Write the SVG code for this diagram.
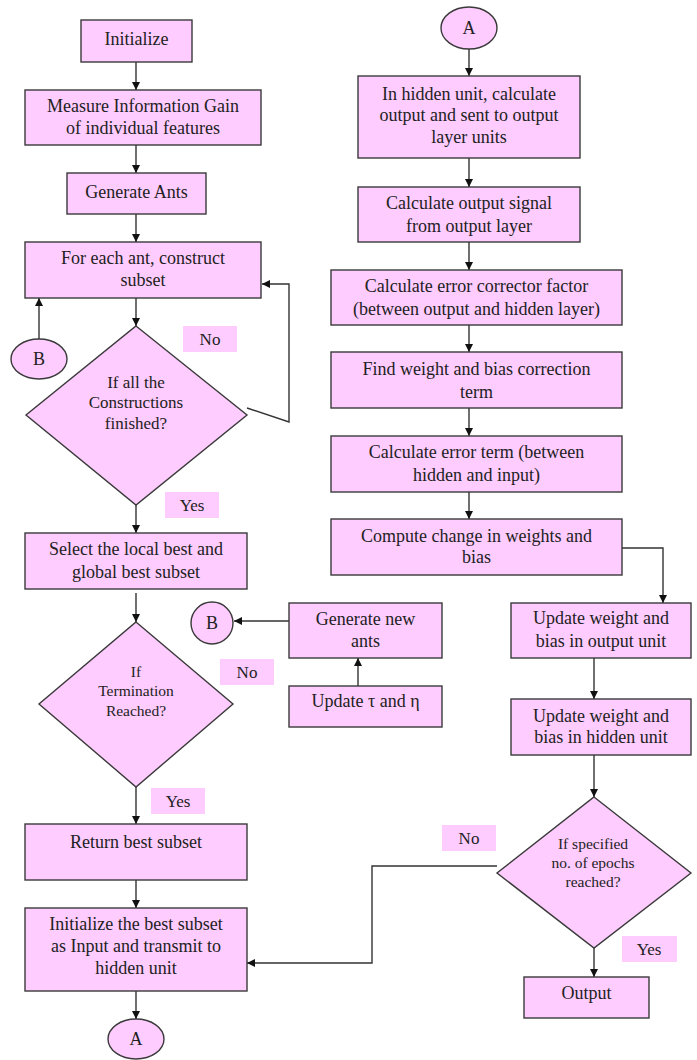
<svg xmlns="http://www.w3.org/2000/svg" width="697" height="1060" viewBox="0 0 697 1060">
<defs>
<marker id="ah" viewBox="0 0 10 10" refX="10" refY="5" markerWidth="8" markerHeight="8" markerUnits="userSpaceOnUse" orient="auto">
<path d="M0,0 L10,5 L0,10 Z" fill="#111"/>
</marker>
<style>
.n{fill:#FFCCFF;stroke:#3a3a3a;stroke-width:1.4}
.lb{fill:#FFCCFF;stroke:none}
text{font-family:"Liberation Serif","Times New Roman",serif;font-size:18px;fill:#222;text-anchor:middle}
.s{font-size:15.5px}
.m{font-size:17px}
.c{fill:none;stroke:#333;stroke-width:1.4}
.ca{fill:none;stroke:#333;stroke-width:1.4;marker-end:url(#ah)}
</style>
</defs>
<rect width="697" height="1060" fill="#fff"/>

<g id="connectors">
<line class="ca" x1="136" y1="62" x2="136" y2="90"/>
<line class="ca" x1="136" y1="145" x2="136" y2="173"/>
<line class="ca" x1="136" y1="214" x2="136" y2="242"/>
<line class="ca" x1="136" y1="298" x2="136" y2="326"/>
<line class="ca" x1="39" y1="339" x2="39" y2="298"/>
<polyline class="ca" points="247,408 289,422 289,284 262,284"/>
<line class="ca" x1="136" y1="505" x2="136" y2="533"/>
<line class="ca" x1="136" y1="593" x2="136" y2="622"/>
<line class="ca" x1="136" y1="787" x2="136" y2="824"/>
<line class="ca" x1="136" y1="880" x2="136" y2="908"/>
<line class="ca" x1="136" y1="991" x2="136" y2="1019"/>
<line class="ca" x1="289" y1="621" x2="234" y2="621"/>
<line class="ca" x1="358" y1="686" x2="358" y2="658"/>
<line class="ca" x1="469" y1="49" x2="469" y2="76"/>
<line class="ca" x1="469" y1="158" x2="469" y2="187"/>
<line class="ca" x1="469" y1="242" x2="469" y2="270"/>
<line class="ca" x1="469" y1="325" x2="469" y2="352"/>
<line class="ca" x1="469" y1="408" x2="469" y2="436"/>
<line class="ca" x1="469" y1="492" x2="469" y2="519"/>
<polyline class="ca" points="622,548 663,548 663,603"/>
<line class="ca" x1="594" y1="658" x2="594" y2="699"/>
<line class="ca" x1="594" y1="755" x2="594" y2="797"/>
<line class="ca" x1="594" y1="948" x2="594" y2="977"/>
<polyline class="ca" points="497,866 372,866 372,963 247,963"/>
</g>

<g id="labels">
<rect class="lb" x="183" y="326" width="54" height="26"/><text class="m" x="210" y="345">No</text>
<rect class="lb" x="165" y="492" width="54" height="26"/><text class="m" x="192" y="511">Yes</text>
<rect class="lb" x="220" y="659" width="54" height="26"/><text class="m" x="247" y="678">No</text>
<rect class="lb" x="151" y="788" width="54" height="26"/><text class="m" x="178" y="807">Yes</text>
<rect class="lb" x="442" y="825" width="54" height="26"/><text class="m" x="469" y="844">No</text>
<rect class="lb" x="622" y="936" width="55" height="26"/><text class="m" x="649" y="955">Yes</text>
</g>

<g id="initialize"><rect class="n" x="81" y="20" width="111" height="42"/><text x="136.5" y="45">Initialize</text></g>
<g id="measure"><rect class="n" x="25" y="90" width="236" height="55"/><text x="143" y="112">Measure Information Gain</text><text x="143" y="134">of individual features</text></g>
<g id="generate-ants"><rect class="n" x="67" y="173" width="139" height="41"/><text x="136.5" y="198">Generate Ants</text></g>
<g id="construct"><rect class="n" x="25" y="242" width="236" height="56"/><text x="143" y="264">For each ant, construct</text><text x="143" y="286">subset</text></g>
<g id="B1"><ellipse class="n" cx="39" cy="359" rx="28" ry="20"/><text x="39" y="365">B</text></g>
<g id="finished"><polygon class="n" points="136,326 247,415 136,505 26,415"/><text class="m" x="136" y="388">If all the</text><text class="m" x="136" y="408">Constructions</text><text class="m" x="136" y="429">finished?</text></g>
<g id="select"><rect class="n" x="25" y="533" width="222" height="56"/><text x="136" y="555">Select the local best and</text><text x="136" y="578">global best subset</text></g>
<g id="termination"><polygon class="n" points="136,622 233,704 136,787 39,704"/><text class="s" x="136" y="677">If</text><text class="s" x="136" y="696">Termination</text><text class="s" x="136" y="716">Reached?</text></g>
<g id="B2"><circle class="n" cx="212" cy="623" r="21"/><text x="212" y="629">B</text></g>
<g id="generate-new"><rect class="n" x="289" y="603" width="153" height="55"/><text x="365.5" y="625">Generate new</text><text x="365.5" y="647">ants</text></g>
<g id="update-tau"><rect class="n" x="289" y="686" width="153" height="41"/><text x="365.5" y="707">Update τ and η</text></g>
<g id="return"><rect class="n" x="25" y="824" width="222" height="56"/><text x="136" y="848">Return best subset</text></g>
<g id="init-best"><rect class="n" x="25" y="908" width="222" height="83"/><text x="136" y="930">Initialize the best subset</text><text x="136" y="952">as Input and transmit to</text><text x="136" y="974">hidden unit</text></g>
<g id="A1"><ellipse class="n" cx="136" cy="1039" rx="28" ry="20"/><text x="136" y="1045">A</text></g>

<g id="A2"><ellipse class="n" cx="469" cy="28" rx="28" ry="21"/><text x="469" y="34">A</text></g>
<g id="hidden-calc"><rect class="n" x="358" y="76" width="222" height="82"/><text x="469" y="100">In hidden unit, calculate</text><text x="469" y="121">output and sent to output</text><text x="469" y="143">layer units</text></g>
<g id="output-signal"><rect class="n" x="358" y="187" width="222" height="55"/><text x="469" y="209">Calculate output signal</text><text x="469" y="232">from output layer</text></g>
<g id="error-corrector"><rect class="n" x="331" y="270" width="291" height="55"/><text x="476.5" y="292">Calculate error corrector factor</text><text x="476.5" y="315">(between output and hidden layer)</text></g>
<g id="weight-bias"><rect class="n" x="331" y="352" width="291" height="56"/><text x="476.5" y="375">Find weight and bias correction</text><text x="476.5" y="398">term</text></g>
<g id="error-term"><rect class="n" x="331" y="436" width="291" height="56"/><text x="476.5" y="458">Calculate error term (between</text><text x="476.5" y="481">hidden and input)</text></g>
<g id="compute-change"><rect class="n" x="331" y="519" width="291" height="56"/><text x="476.5" y="542">Compute change in weights and</text><text x="476.5" y="563">bias</text></g>
<g id="update-output"><rect class="n" x="511" y="603" width="180" height="55"/><text x="601" y="624">Update weight and</text><text x="601" y="647">bias in output unit</text></g>
<g id="update-hidden"><rect class="n" x="511" y="699" width="180" height="56"/><text x="601" y="722">Update weight and</text><text x="601" y="743">bias in hidden unit</text></g>
<g id="epochs"><polygon class="n" points="594,797 691,873 594,948 497,873"/><text class="s" x="593" y="849">If specified</text><text class="s" x="593" y="868">no. of epochs</text><text class="s" x="593" y="887">reached?</text></g>
<g id="output"><rect class="n" x="524" y="977" width="125" height="41"/><text x="586.5" y="999">Output</text></g>
</svg>
